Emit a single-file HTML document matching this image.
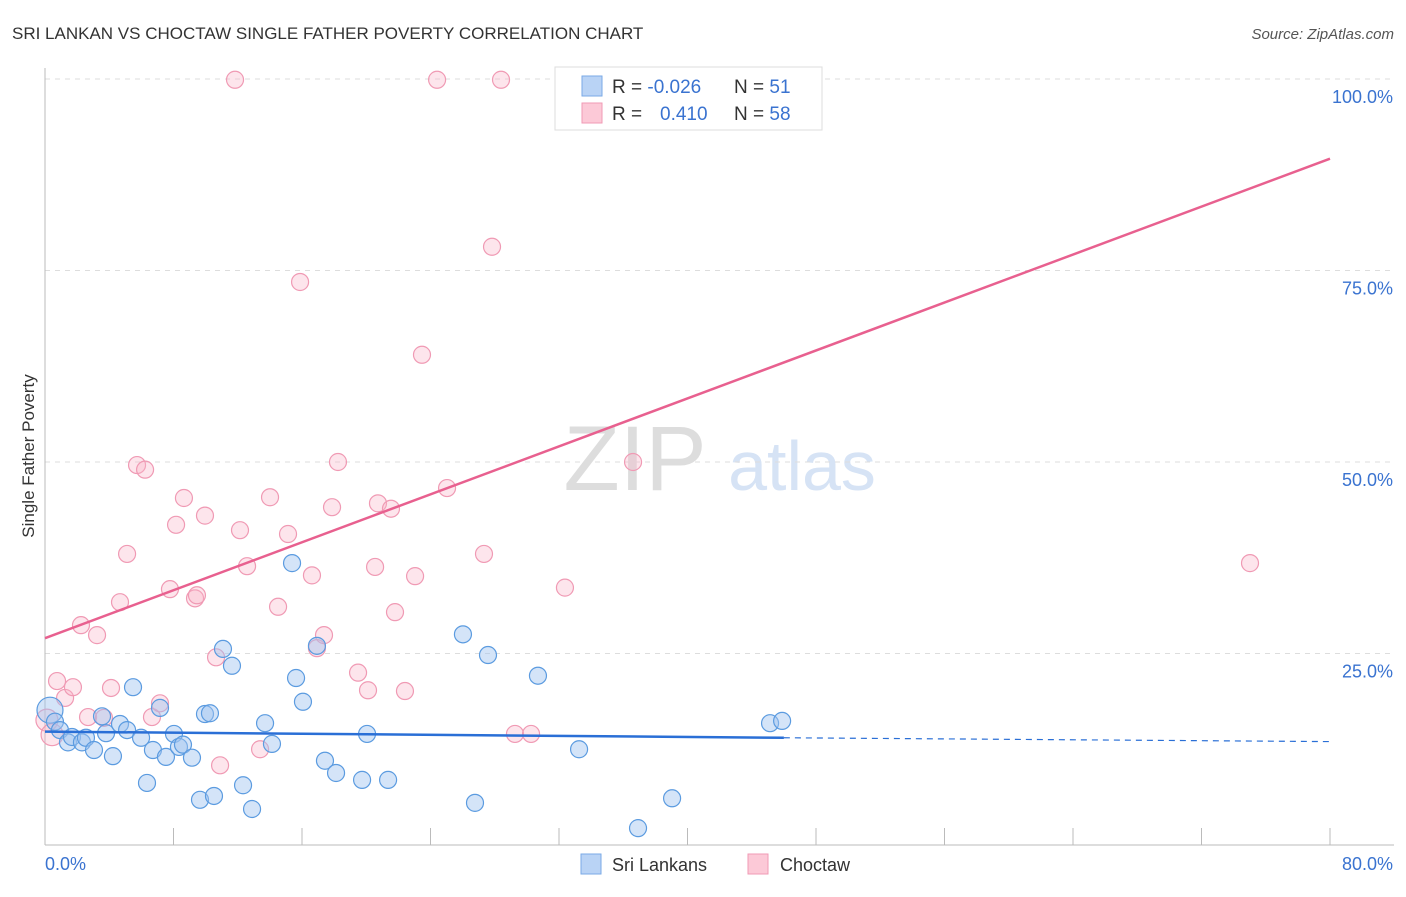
<!DOCTYPE html>
<html><head><meta charset="utf-8"><style>
body{margin:0;background:#fff;font-family:"Liberation Sans",sans-serif;}
svg text{font-family:"Liberation Sans",sans-serif;}
</style></head><body>
<svg id="c" width="1406" height="892">
<text x="12" y="39" font-size="17" fill="#333">SRI LANKAN VS CHOCTAW SINGLE FATHER POVERTY CORRELATION CHART</text>
<text x="1394" y="39" font-size="15" fill="#555" text-anchor="end" font-style="italic">Source: ZipAtlas.com</text>
<text transform="translate(34,456) rotate(-90)" font-size="17" fill="#333" text-anchor="middle">Single Father Poverty</text>
<g><text x="635" y="490" font-size="92" fill="#ddd" font-family="Liberation Serif" text-anchor="middle">ZIP</text><text x="802" y="490" font-size="70" fill="#d6e3f5" text-anchor="middle">atlas</text></g>
<g id="grid"></g><g id="pts"></g><g id="lines"></g>
<g>
<rect x="555" y="67" width="267" height="63" fill="#fff" stroke="#ddd"/>
<rect x="582" y="76" width="20" height="20" fill="#b9d3f5" stroke="#7aa9e6"/>
<rect x="582" y="103" width="20" height="20" fill="#fcc9d7" stroke="#f09ab4"/>
<text x="612" y="93" font-size="19" fill="#333">R = <tspan fill="#3a73d0">-0.026</tspan></text>
<text x="734" y="93" font-size="19" fill="#333">N = <tspan fill="#3a73d0"> 51</tspan></text>
<text x="612" y="120" font-size="19" fill="#333">R = <tspan fill="#3a73d0" x="660">0.410</tspan></text>
<text x="734" y="120" font-size="19" fill="#333">N = <tspan fill="#3a73d0">58</tspan></text>
</g>
<g>
<rect x="581" y="854" width="20" height="20" fill="#b9d3f5" stroke="#7aa9e6"/>
<text x="612" y="871" font-size="18" fill="#333">Sri Lankans</text>
<rect x="748" y="854" width="20" height="20" fill="#fcc9d7" stroke="#f09ab4"/>
<text x="780" y="871" font-size="18" fill="#333">Choctaw</text>
</g>
<text x="45" y="870" font-size="18" fill="#3a73d0">0.0%</text>
<text x="1393" y="870" font-size="18" fill="#3a73d0" text-anchor="end">80.0%</text>
</svg>
<script>
const yTicks=[100,75,50,25];
const yTickLabels=["100.0%","75.0%","50.0%","25.0%"];
const blueX=[0.31,0.62,0.93,1.43,1.68,2.30,2.55,3.05,3.55,3.80,4.23,4.67,5.11,5.48,5.98,6.35,6.72,7.16,7.53,8.03,8.34,8.59,9.15,9.65,9.96,10.27,10.52,11.08,11.64,12.33,12.89,13.70,14.13,15.38,15.63,16.06,16.93,17.43,18.12,19.74,20.05,21.36,26.02,26.77,27.58,30.69,33.25,36.92,39.04,45.14,45.89];
const blueY=[17.6,16.1,15.0,13.4,14.1,13.4,14.0,12.4,16.8,14.6,11.6,15.8,15.0,20.6,14.0,8.1,12.4,17.9,11.5,14.5,12.8,13.1,11.4,5.9,17.1,17.2,6.4,25.6,23.4,7.8,4.7,15.9,13.2,36.8,21.8,18.7,26.0,11.0,9.4,8.5,14.5,8.5,27.5,5.5,24.8,22.1,12.5,2.2,6.1,15.9,16.2];
const pinkX=[0.12,0.44,0.75,1.25,1.74,2.24,2.68,3.24,3.67,4.11,4.67,5.11,5.73,6.23,6.66,7.16,7.78,8.16,8.65,9.34,9.46,9.96,10.65,10.90,11.83,12.14,12.58,13.39,14.01,14.51,15.13,15.88,16.62,16.93,17.37,17.87,18.24,19.49,20.11,20.55,20.73,21.54,21.79,22.41,23.04,23.47,24.41,25.03,27.33,27.83,28.39,29.26,30.26,32.37,32.62,35.61,36.61,45.39,75.02];
const pinkY=[16.3,14.4,21.4,19.2,20.6,28.7,16.7,27.4,16.6,20.5,31.7,38.0,49.6,49.0,16.7,18.5,33.4,41.8,45.3,32.2,32.6,43.0,24.5,10.4,99.9,41.1,36.4,12.5,45.4,31.1,40.6,73.5,35.2,25.7,27.4,44.1,50.0,22.5,20.2,36.3,44.6,43.9,30.4,20.1,35.1,64.0,99.9,46.6,38.0,78.1,99.9,14.5,14.5,33.6,99.9,99.9,50.0,99.9,36.8];
const blueTrend=[[0,14.8],[46,14.0],[80,13.5]];
const pinkTrend=[[0,27.0],[80,89.6]];
const X0=45,X1=1330,Y0=845,Y1=79;
const sx=v=>X0+(X1-X0)*v/80, sy=v=>Y0-(Y0-Y1)*v/100;
const NS="http://www.w3.org/2000/svg";
function mk(t,p,a){const e=document.createElementNS(NS,t);for(const k in a)e.setAttribute(k,a[k]);p.appendChild(e);return e;}
const g=document.getElementById('grid');
yTicks.forEach((t,i)=>{
 const l=mk('line',g,{x1:X0,x2:1394,y1:sy(t),y2:sy(t),stroke:'#ddd','stroke-dasharray':'5,5'});
 
 
 const tx=mk('text',g,{x:1393,y:sy(t)+24,'font-size':18,fill:'#3a73d0','text-anchor':'end'});
 tx.textContent=yTickLabels[i];
 
 
});
const ax=mk('line',g,{x1:X0,x2:X0,y1:68,y2:Y0,stroke:'#bbb'});


const bx=mk('line',g,{x1:X0,x2:1394,y1:Y0,y2:Y0,stroke:'#bbb'});


for(let i=0;i<=10;i++){const t=mk('line',g,{x1:sx(i*8),x2:sx(i*8),y1:828,y2:Y0,stroke:'#bbb'});
 
 }
const P=document.getElementById('pts');
pinkX.forEach((x,i)=>{const c=mk('circle',P,{cx:sx(x),cy:sy(pinkY[i]),r:i<2?11:8.5,fill:'rgba(248,180,200,0.35)',stroke:'#f09ab4','stroke-width':1.2});
 
 });
blueX.forEach((x,i)=>{const c=mk('circle',P,{cx:sx(x),cy:sy(blueY[i]),r:i<1?13:8.5,fill:'rgba(160,196,240,0.45)',stroke:'#5b9be0','stroke-width':1.2});
 
 });
const L=document.getElementById('lines');
const b1=mk('line',L,{x1:sx(blueTrend[0][0]),y1:sy(blueTrend[0][1]),x2:sx(blueTrend[1][0]),y2:sy(blueTrend[1][1]),stroke:'#2a6fd6','stroke-width':2.5});


const b2=mk('line',L,{x1:sx(blueTrend[1][0]),y1:sy(blueTrend[1][1]),x2:sx(blueTrend[2][0]),y2:sy(blueTrend[2][1]),stroke:'#2a6fd6','stroke-width':1.2,'stroke-dasharray':'6,5'});


const p1=mk('line',L,{x1:sx(pinkTrend[0][0]),y1:sy(pinkTrend[0][1]),x2:sx(pinkTrend[1][0]),y2:sy(pinkTrend[1][1]),stroke:'#e8608f','stroke-width':2.5});


</script>
</body></html>
